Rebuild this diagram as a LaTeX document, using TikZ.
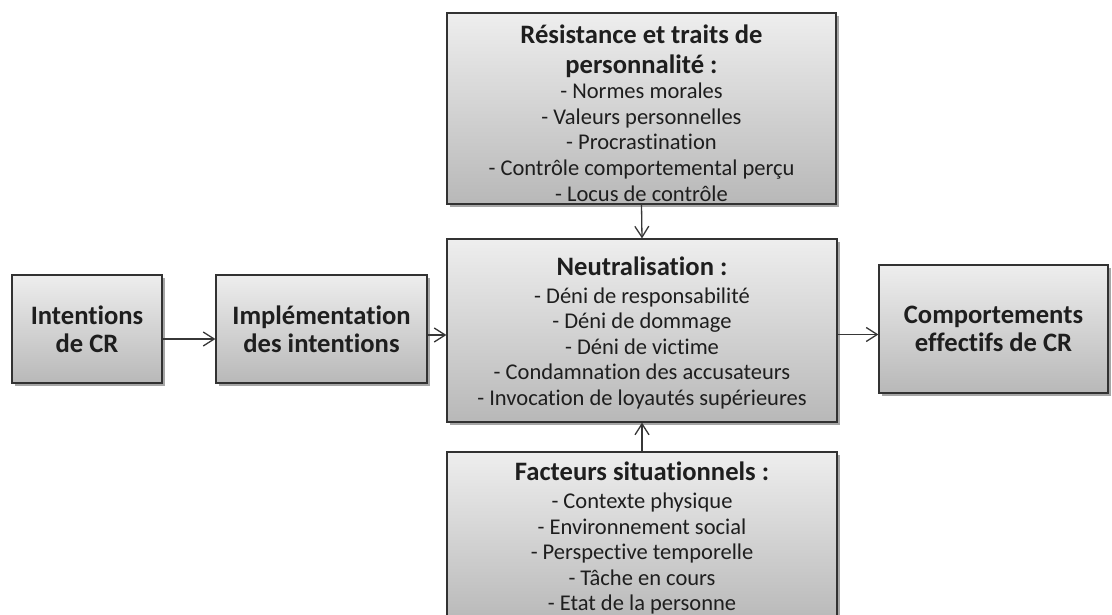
\documentclass[tikz,border=0pt]{standalone}
\usepackage{fontspec}
\setmainfont{Carlito}[Ligatures=NoCommon]
\usetikzlibrary{arrows.meta,shadows}
\definecolor{boxtop}{RGB}{238,238,238}
\definecolor{boxbot}{RGB}{184,184,184}
\definecolor{boxline}{RGB}{50,50,50}
\definecolor{txt}{RGB}{30,30,30}
\definecolor{arr}{RGB}{55,55,55}
\newcommand{\tf}{\fontsize{26.6}{28}\selectfont\bfseries}
\newcommand{\itf}{\fontsize{22.5}{25.5}\selectfont}
\newcommand{\itfb}{\fontsize{22.5}{25.8}\selectfont}
\tikzset{
  box/.style={draw=boxline, line width=1.2pt, top color=boxtop, bottom color=boxbot,
    drop shadow={shadow xshift=2.5pt, shadow yshift=-3pt, opacity=0.35, fill=black},
    align=center, text=txt, inner sep=0pt},
  conn/.style={draw=arr, line width=1.3pt, -{Straight Barb[length=11pt,width=14pt,line width=1.3pt]}}
}
\begin{document}
\begin{tikzpicture}[x=1pt,y=-1pt]
\useasboundingbox (0,0) rectangle (1112,614);
\clip (0,0) rectangle (1112,614);
\node[box, minimum width=150pt, minimum height=108pt, font=\tf] (A) at (87,329)
  {Intentions\\de CR};
\node[box, minimum width=211pt, minimum height=108pt, font=\tf] (B) at (321.5,329)
  {Implémentation\\des intentions};
\node[box, minimum width=390pt, minimum height=183pt, font=\itf] (N) at (642,330.5)
  {{\tf\rule{0pt}{23.5pt}Neutralisation :}\\[2.5pt]
   - Déni de responsabilité\\
   - Déni de dommage\\
   - Déni de victime\\
   - Condamnation des accusateurs\\
   - Invocation de loyautés supérieures};
\node[box, minimum width=389pt, minimum height=191pt, font=\itfb] (T) at (641.5,108.5)
  {{\tf\rule{0pt}{28pt}Résistance et traits de}\\[4.5pt]
   {\tf personnalité :}\\[-1pt]
   - Normes morales\\
   - Valeurs personnelles\\
   - Procrastination\\
   - Contrôle comportemental perçu\\
   - Locus de contrôle};
\node[box, minimum width=390pt, minimum height=172pt, font=\itf] (F) at (642,538)
  {{\tf Facteurs situationnels :}\\[2.5pt]
   - Contexte physique\\
   - Environnement social\\
   - Perspective temporelle\\
   - Tâche en cours\\
   - Etat de la personne};
\node[box, minimum width=229pt, minimum height=128pt, font=\tf] (C) at (993.5,329)
  {Comportements\\effectifs de CR};
\draw[conn] ([yshift=-10pt]A.east) -- ([yshift=-10pt]B.west);
\draw[conn] ([yshift=-6pt]B.east) -- ([yshift=-6pt]N.west |- B.center);
\draw[conn] ([yshift=-4pt]N.east) -- ([yshift=-4pt]N.east -| C.west);
\draw[conn] (T.south) -- (N.north);
\draw[conn] (F.north) -- (N.south);
\end{tikzpicture}
\end{document}
